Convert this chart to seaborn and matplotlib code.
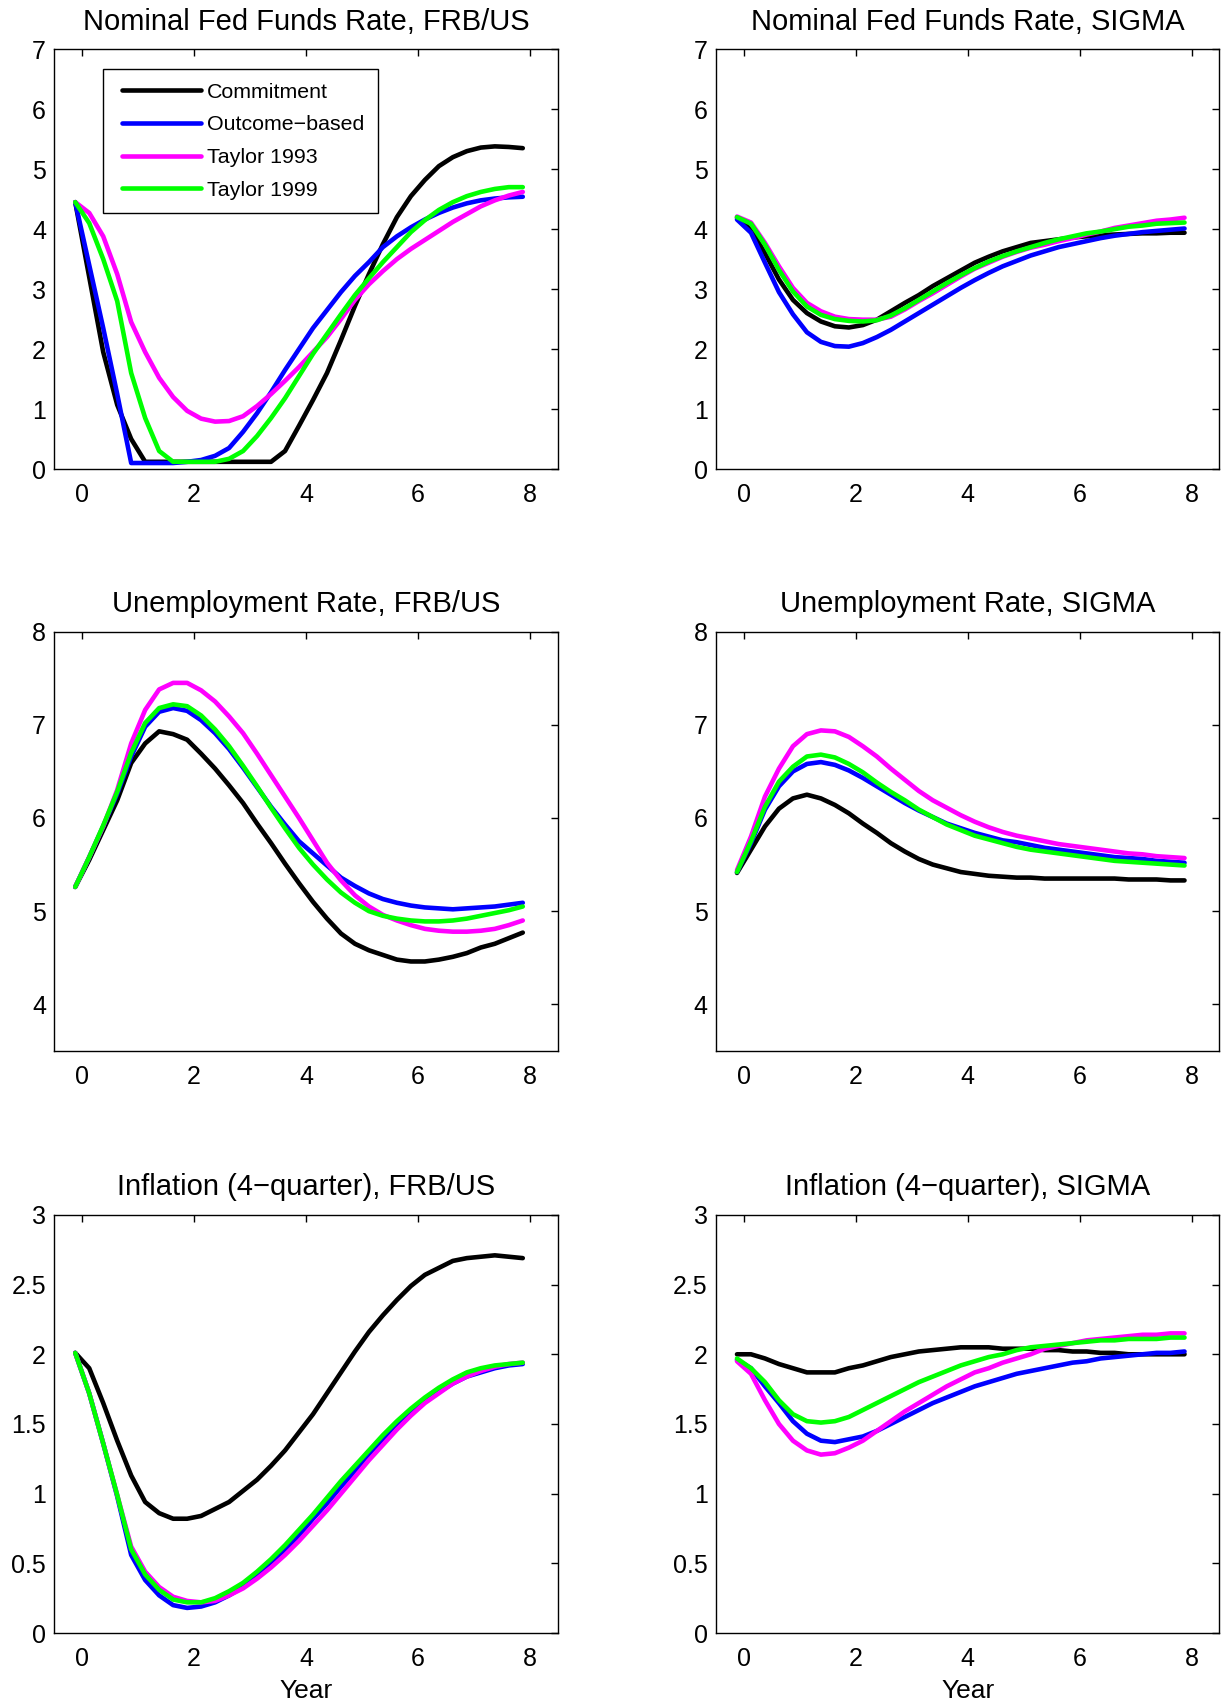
import numpy as np
import pandas as pd
import seaborn as sns
import matplotlib
matplotlib.use("Agg")
import matplotlib.pyplot as plt
from matplotlib.lines import Line2D
from matplotlib.legend_handler import HandlerLine2D

# quarterly horizon (years)
years = [-0.125, 0.125, 0.375, 0.625, 0.875, 1.125, 1.375, 1.625, 1.875, 2.125, 2.375,
         2.625, 2.875, 3.125, 3.375, 3.625, 3.875, 4.125, 4.375, 4.625, 4.875, 5.125,
         5.375, 5.625, 5.875, 6.125, 6.375, 6.625, 6.875, 7.125, 7.375, 7.625, 7.875]

policies = ["Commitment", "Outcome\u2212based", "Taylor 1993", "Taylor 1999"]
colors = ["#000000", "#0000ff", "#ff00ff", "#00ff00"]

# Nominal fed funds rate, FRB/US
ffr_frbus_commit = [4.45, 3.2, 1.95, 1.07, 0.5, 0.12, 0.12, 0.12, 0.12, 0.12, 0.12, 0.12, 0.12, 0.12, 0.12, 0.3, 0.72,
                    1.15, 1.6, 2.15, 2.72, 3.25, 3.75, 4.2, 4.55, 4.82, 5.05, 5.2, 5.3, 5.36, 5.38, 5.37, 5.35]
ffr_frbus_outcome = [4.45, 3.4, 2.35, 1.25, 0.1, 0.1, 0.1, 0.1, 0.12, 0.15, 0.22, 0.35, 0.62, 0.93, 1.28, 1.65, 2.0,
                     2.35, 2.65, 2.95, 3.22, 3.45, 3.7, 3.88, 4.03, 4.16, 4.27, 4.36, 4.43, 4.48, 4.51, 4.53, 4.54]
ffr_frbus_t93 = [4.45, 4.27, 3.88, 3.25, 2.45, 1.95, 1.52, 1.2, 0.97, 0.84, 0.79, 0.8, 0.88, 1.05, 1.25, 1.47, 1.7,
                 1.95, 2.2, 2.5, 2.82, 3.08, 3.3, 3.5, 3.67, 3.82, 3.97, 4.12, 4.25, 4.38, 4.48, 4.56, 4.62]
ffr_frbus_t99 = [4.45, 4.1, 3.5, 2.8, 1.6, 0.85, 0.3, 0.12, 0.12, 0.12, 0.12, 0.17, 0.3, 0.55, 0.85, 1.18, 1.55,
                 1.92, 2.25, 2.58, 2.9, 3.18, 3.45, 3.7, 3.95, 4.15, 4.32, 4.45, 4.55, 4.62, 4.67, 4.7, 4.7]

# Nominal fed funds rate, SIGMA
ffr_sigma_commit = [4.19, 3.99, 3.6, 3.16, 2.82, 2.6, 2.46, 2.38, 2.36, 2.4, 2.49, 2.63, 2.77, 2.9, 3.05, 3.18, 3.31,
                    3.44, 3.54, 3.63, 3.7, 3.77, 3.8, 3.83, 3.86, 3.88, 3.9, 3.91, 3.92, 3.93, 3.93, 3.94, 3.94]
ffr_sigma_outcome = [4.16, 3.94, 3.44, 2.95, 2.58, 2.28, 2.12, 2.05, 2.04, 2.1, 2.2, 2.32, 2.46, 2.6, 2.74, 2.88, 3.02,
                     3.15, 3.27, 3.38, 3.47, 3.56, 3.63, 3.7, 3.75, 3.8, 3.85, 3.89, 3.92, 3.95, 3.97, 3.99, 4.01]
ffr_sigma_t93 = [4.21, 4.11, 3.77, 3.38, 3.02, 2.77, 2.63, 2.54, 2.5, 2.49, 2.49, 2.54, 2.66, 2.8, 2.93, 3.07, 3.21,
                 3.34, 3.44, 3.54, 3.62, 3.69, 3.74, 3.8, 3.85, 3.91, 3.96, 4.02, 4.06, 4.1, 4.14, 4.16, 4.19]
ffr_sigma_t99 = [4.2, 4.09, 3.74, 3.32, 2.96, 2.71, 2.57, 2.5, 2.47, 2.46, 2.48, 2.56, 2.68, 2.82, 2.96, 3.1, 3.23,
                 3.35, 3.46, 3.55, 3.63, 3.7, 3.77, 3.83, 3.88, 3.93, 3.96, 4.0, 4.04, 4.06, 4.09, 4.1, 4.11]

# Unemployment rate, FRB/US
ur_frbus_commit = [5.26, 5.55, 5.87, 6.19, 6.59, 6.8, 6.93, 6.9, 6.84, 6.69, 6.53, 6.35, 6.16, 5.94, 5.73, 5.51, 5.3,
                   5.1, 4.92, 4.76, 4.65, 4.58, 4.53, 4.48, 4.46, 4.46, 4.48, 4.51, 4.55, 4.61, 4.65, 4.71, 4.77]
ur_frbus_outcome = [5.26, 5.58, 5.91, 6.26, 6.66, 6.98, 7.14, 7.18, 7.15, 7.05, 6.91, 6.74, 6.54, 6.33, 6.12, 5.93, 5.75,
                    5.62, 5.49, 5.36, 5.27, 5.19, 5.13, 5.09, 5.06, 5.04, 5.03, 5.02, 5.03, 5.04, 5.05, 5.07, 5.09]
ur_frbus_t93 = [5.26, 5.58, 5.91, 6.3, 6.8, 7.16, 7.38, 7.45, 7.45, 7.37, 7.25, 7.09, 6.91, 6.69, 6.46, 6.23, 6.0,
                5.76, 5.52, 5.33, 5.17, 5.05, 4.96, 4.9, 4.85, 4.81, 4.79, 4.78, 4.78, 4.79, 4.81, 4.85, 4.9]
ur_frbus_t99 = [5.26, 5.58, 5.92, 6.28, 6.7, 7.02, 7.18, 7.22, 7.2, 7.1, 6.95, 6.77, 6.56, 6.34, 6.11, 5.89, 5.68,
                5.5, 5.34, 5.2, 5.09, 5.0, 4.95, 4.92, 4.9, 4.89, 4.89, 4.9, 4.92, 4.95, 4.98, 5.01, 5.05]

# Unemployment rate, SIGMA
ur_sigma_commit = [5.41, 5.66, 5.91, 6.1, 6.21, 6.25, 6.21, 6.14, 6.05, 5.94, 5.84, 5.73, 5.64, 5.56, 5.5, 5.46, 5.42,
                   5.4, 5.38, 5.37, 5.36, 5.36, 5.35, 5.35, 5.35, 5.35, 5.35, 5.35, 5.34, 5.34, 5.34, 5.33, 5.33]
ur_sigma_outcome = [5.42, 5.73, 6.09, 6.34, 6.5, 6.58, 6.6, 6.57, 6.51, 6.43, 6.34, 6.25, 6.16, 6.08, 6.01, 5.94, 5.89,
                    5.84, 5.8, 5.76, 5.74, 5.71, 5.68, 5.66, 5.64, 5.62, 5.6, 5.58, 5.57, 5.56, 5.54, 5.53, 5.52]
ur_sigma_t93 = [5.44, 5.8, 6.23, 6.53, 6.77, 6.9, 6.94, 6.93, 6.87, 6.77, 6.66, 6.53, 6.41, 6.29, 6.19, 6.11, 6.03,
                5.96, 5.9, 5.85, 5.81, 5.78, 5.75, 5.72, 5.7, 5.68, 5.66, 5.64, 5.62, 5.61, 5.59, 5.58, 5.57]
ur_sigma_t99 = [5.42, 5.75, 6.12, 6.39, 6.55, 6.66, 6.68, 6.65, 6.58, 6.49, 6.38, 6.28, 6.19, 6.09, 6.01, 5.93, 5.87,
                5.81, 5.77, 5.73, 5.69, 5.66, 5.64, 5.62, 5.6, 5.58, 5.56, 5.54, 5.53, 5.52, 5.51, 5.5, 5.49]

# Inflation (4-quarter), FRB/US
inf_frbus_commit = [2.01, 1.9, 1.65, 1.38, 1.13, 0.94, 0.86, 0.82, 0.82, 0.84, 0.89, 0.94, 1.02, 1.1, 1.2, 1.31, 1.44,
                    1.57, 1.72, 1.87, 2.02, 2.16, 2.28, 2.39, 2.49, 2.57, 2.62, 2.67, 2.69, 2.7, 2.71, 2.7, 2.69]
inf_frbus_outcome = [2.01, 1.72, 1.36, 0.98, 0.56, 0.38, 0.27, 0.2, 0.18, 0.19, 0.22, 0.27, 0.33, 0.41, 0.5, 0.6, 0.7,
                     0.82, 0.93, 1.05, 1.16, 1.28, 1.39, 1.49, 1.58, 1.66, 1.73, 1.79, 1.84, 1.87, 1.9, 1.92, 1.93]
inf_frbus_t93 = [2.01, 1.72, 1.36, 0.99, 0.62, 0.44, 0.33, 0.26, 0.23, 0.22, 0.23, 0.27, 0.32, 0.39, 0.47, 0.56, 0.66,
                 0.77, 0.88, 1.0, 1.12, 1.24, 1.35, 1.46, 1.56, 1.65, 1.72, 1.79, 1.84, 1.88, 1.91, 1.93, 1.94]
inf_frbus_t99 = [2.01, 1.72, 1.36, 0.99, 0.6, 0.42, 0.31, 0.24, 0.22, 0.22, 0.25, 0.3, 0.36, 0.44, 0.53, 0.63, 0.74,
                 0.85, 0.97, 1.09, 1.2, 1.31, 1.42, 1.52, 1.61, 1.69, 1.76, 1.82, 1.87, 1.9, 1.92, 1.93, 1.94]

# Inflation (4-quarter), SIGMA
inf_sigma_commit = [2.0, 2.0, 1.97, 1.93, 1.9, 1.87, 1.87, 1.87, 1.9, 1.92, 1.95, 1.98, 2.0, 2.02, 2.03, 2.04, 2.05,
                    2.05, 2.05, 2.04, 2.04, 2.04, 2.03, 2.03, 2.02, 2.02, 2.01, 2.01, 2.0, 2.0, 2.0, 2.0, 2.0]
inf_sigma_outcome = [1.96, 1.9, 1.77, 1.65, 1.52, 1.43, 1.38, 1.37, 1.39, 1.41, 1.45, 1.5, 1.55, 1.6, 1.65, 1.69, 1.73,
                     1.77, 1.8, 1.83, 1.86, 1.88, 1.9, 1.92, 1.94, 1.95, 1.97, 1.98, 1.99, 2.0, 2.01, 2.01, 2.02]
inf_sigma_t93 = [1.95, 1.86, 1.67, 1.5, 1.38, 1.31, 1.28, 1.29, 1.33, 1.38, 1.45, 1.52, 1.59, 1.65, 1.71, 1.77, 1.82,
                 1.87, 1.9, 1.94, 1.97, 2.0, 2.04, 2.06, 2.08, 2.1, 2.11, 2.12, 2.13, 2.14, 2.14, 2.15, 2.15]
inf_sigma_t99 = [1.97, 1.9, 1.8, 1.67, 1.57, 1.52, 1.51, 1.52, 1.55, 1.6, 1.65, 1.7, 1.75, 1.8, 1.84, 1.88, 1.92,
                 1.95, 1.98, 2.0, 2.03, 2.05, 2.06, 2.07, 2.08, 2.09, 2.1, 2.1, 2.11, 2.11, 2.11, 2.12, 2.12]

xticks = [0, 2, 4, 6, 8]
ffr_ticks = [0, 1, 2, 3, 4, 5, 6, 7]
ur_ticks = [4, 5, 6, 7, 8]
inf_ticks = [0, 0.5, 1, 1.5, 2, 2.5, 3]
inf_labels = ["0", "0.5", "1", "1.5", "2", "2.5", "3"]

panels = [
    ("Nominal Fed Funds Rate, FRB/US", [ffr_frbus_commit, ffr_frbus_outcome, ffr_frbus_t93, ffr_frbus_t99], (0, 7), ffr_ticks, None),
    ("Nominal Fed Funds Rate, SIGMA", [ffr_sigma_commit, ffr_sigma_outcome, ffr_sigma_t93, ffr_sigma_t99], (0, 7), ffr_ticks, None),
    ("Unemployment Rate, FRB/US", [ur_frbus_commit, ur_frbus_outcome, ur_frbus_t93, ur_frbus_t99], (3.5, 8), ur_ticks, None),
    ("Unemployment Rate, SIGMA", [ur_sigma_commit, ur_sigma_outcome, ur_sigma_t93, ur_sigma_t99], (3.5, 8), ur_ticks, None),
    ("Inflation (4\u2212quarter), FRB/US", [inf_frbus_commit, inf_frbus_outcome, inf_frbus_t93, inf_frbus_t99], (0, 3), inf_ticks, inf_labels),
    ("Inflation (4\u2212quarter), SIGMA", [inf_sigma_commit, inf_sigma_outcome, inf_sigma_t93, inf_sigma_t99], (0, 3), inf_ticks, inf_labels),
]

sns.set_theme(style="white", rc={"text.color": "black", "axes.labelcolor": "black",
                                 "xtick.color": "black", "ytick.color": "black",
                                 "axes.edgecolor": "black"})
plt.rcParams["font.family"] = ["Liberation Sans", "DejaVu Sans"]

fig = plt.figure(figsize=(12.25, 17.03), dpi=100)
col_left = [0.0443, 0.5845]
row_bottom = [0.7246, 0.3829, 0.0411]
row_height = [0.2465, 0.2462, 0.2455]
ax_w = 0.411

for i, (title, series, ylim, yticks, ylabels) in enumerate(panels):
    ax = fig.add_axes([col_left[i % 2], row_bottom[i // 2], ax_w, row_height[i // 2]])
    df = pd.DataFrame({
        "Year": years * len(policies),
        "Value": [v for s in series for v in s],
        "Policy": np.repeat(policies, len(years)),
    })
    sns.lineplot(data=df, x="Year", y="Value", hue="Policy", hue_order=policies,
                 palette=colors, linewidth=3.3, legend=False, sort=False, ax=ax)
    ax.set_xlim(-0.5, 8.5)
    ax.set_ylim(*ylim)
    ax.set_xticks(xticks)
    ax.set_xticklabels([str(t) for t in xticks])
    ax.set_yticks(yticks)
    if ylabels is not None:
        ax.set_yticklabels(ylabels)
    ax.tick_params(direction="in", length=5, width=1, top=True, right=True,
                   labelsize=18, colors="black")
    ax.tick_params(axis="x", pad=10)
    ax.tick_params(axis="y", pad=6)
    for sp in ax.spines.values():
        sp.set_visible(True)
        sp.set_linewidth(1.0)
        sp.set_color("black")
    ax.set_title(title, fontsize=21, pad=14)
    ax.set_ylabel("")
    if i >= 4:
        ax.set_xlabel("Year", fontsize=19, labelpad=6)
    else:
        ax.set_xlabel("")
    if i == 0:
        leg = ax.legend(handles=ax.get_lines()[:4], labels=policies, loc="upper left",
                        bbox_to_anchor=(0.0967, 0.952), borderaxespad=0, fontsize=15.4,
                        frameon=True, fancybox=False, edgecolor="black", framealpha=1,
                        handlelength=3.96, handletextpad=0.3, labelspacing=0.64,
                        borderpad=0.62, handler_map={Line2D: HandlerLine2D(xpad=0.26)})
        leg.get_frame().set_linewidth(1.0)

fig.savefig("out.png", dpi=100, facecolor="white")
